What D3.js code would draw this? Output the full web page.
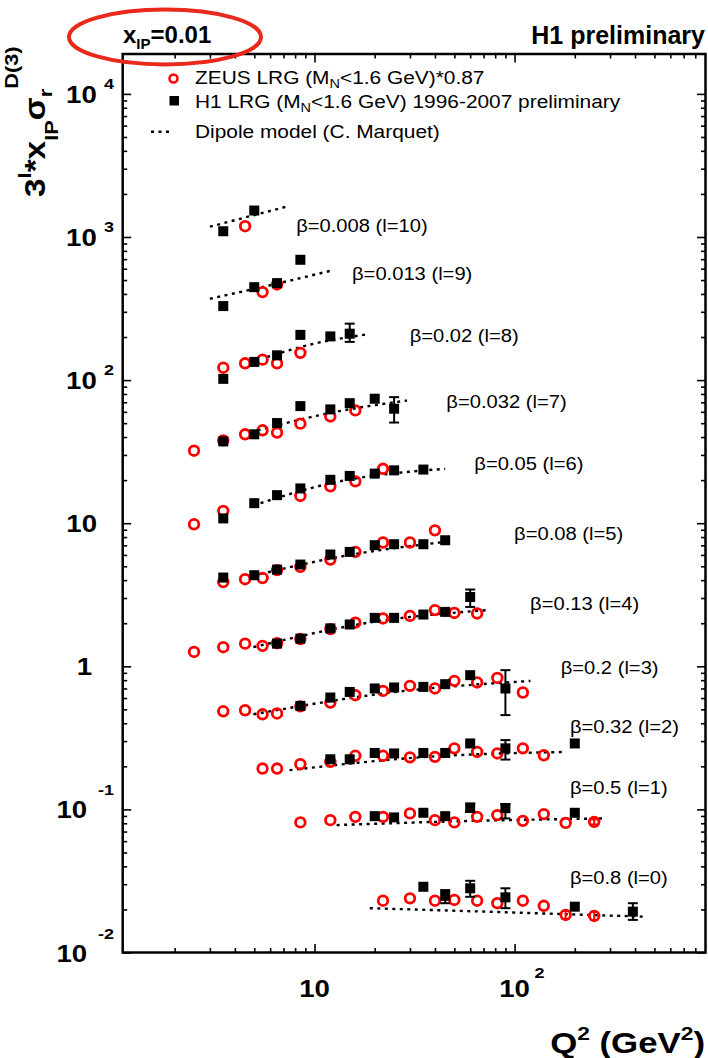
<!DOCTYPE html>
<html>
<head>
<meta charset="utf-8">
<script src="https://cdn.jsdelivr.net/npm/d3@7"></script>
<style>
  html, body { margin: 0; padding: 0; background: #fff; }
  svg { display: block; }
  text { font-family: "Liberation Sans", Arial, Helvetica, sans-serif; fill: #000; }
</style>
</head>
<body>
<svg id="chart" width="708" height="1058"></svg>
<script>
// ---- data -------------------------------------------------------------
// beta bins, drawn with an offset of 3^l
const betaIndex = [10, 9, 8, 7, 6, 5, 4, 3, 2, 1, 0];
const betaLabels = ["0.008", "0.013", "0.02", "0.032", "0.05", "0.08", "0.13", "0.2", "0.32", "0.5", "0.8"];
// label anchors in data coordinates: [Q2 of left edge, value at text centre]
const betaLabelQ2 = [8.1, 15.4, 29.9, 45.6, 62.9, 99.4, 119.5, 170, 189, 189, 189];
const betaLabelVal = [1202, 556, 205, 71.0, 26.2, 8.49, 2.76, 0.985, 0.382, 0.143, 0.0336];

// ZEUS LRG (M_N < 1.6 GeV) * 0.87 : [l, Q2, 3^l * x_IP sigma_r, errLo, errHi]
const zeusPoints = [
  [10, 4.5, 1189],
  [9, 5.5, 412], [9, 6.5, 466],
  [8, 3.5, 122], [8, 4.5, 131], [8, 5.5, 139], [8, 6.5, 131], [8, 8.5, 155],
  [7, 2.5, 32.1], [7, 3.5, 37.9], [7, 4.5, 41.8], [7, 5.5, 44.6], [7, 6.5, 43.0], [7, 8.5, 49.6], [7, 12, 55.7], [7, 16, 61.4],
  [6, 2.5, 9.83], [6, 3.5, 12.2], [6, 8.5, 15.5], [6, 12, 18.1], [6, 16, 19.6], [6, 22, 24.0],
  [5, 3.5, 3.88], [5, 4.5, 4.06], [5, 5.5, 4.14], [5, 6.5, 4.70], [5, 8.5, 4.95], [5, 12, 5.57], [5, 16, 6.30], [5, 22, 7.33], [5, 30, 7.33], [5, 40, 8.91],
  [4, 2.5, 1.26], [4, 3.5, 1.36], [4, 4.5, 1.44], [4, 5.5, 1.39], [4, 6.5, 1.45], [4, 8.5, 1.55], [4, 12, 1.82], [4, 16, 2.02], [4, 22, 2.16], [4, 30, 2.25], [4, 40, 2.47], [4, 50, 2.36], [4, 65, 2.34],
  [3, 3.5, 0.485], [3, 4.5, 0.493], [3, 5.5, 0.462], [3, 6.5, 0.468], [3, 8.5, 0.525], [3, 12, 0.558], [3, 16, 0.628], [3, 22, 0.673], [3, 30, 0.730], [3, 40, 0.700], [3, 50, 0.791], [3, 65, 0.771], [3, 82, 0.830], [3, 110, 0.656],
  [2, 5.5, 0.193], [2, 6.5, 0.193], [2, 8.5, 0.207], [2, 12, 0.215], [2, 16, 0.237], [2, 22, 0.237], [2, 30, 0.231], [2, 40, 0.233], [2, 50, 0.267], [2, 65, 0.252], [2, 82, 0.246], [2, 110, 0.267], [2, 140, 0.239],
  [1, 8.5, 0.0811], [1, 12, 0.0841], [1, 16, 0.0887], [1, 22, 0.0887], [1, 30, 0.0938], [1, 40, 0.0841], [1, 50, 0.0811], [1, 65, 0.0887], [1, 82, 0.0912], [1, 110, 0.0832], [1, 140, 0.0927], [1, 180, 0.0805], [1, 250, 0.0818, 0.0785, 0.0852],
  [0, 22, 0.0230], [0, 30, 0.0239], [0, 40, 0.0230], [0, 50, 0.0233], [0, 65, 0.0230], [0, 82, 0.0221], [0, 110, 0.0230], [0, 140, 0.0212], [0, 180, 0.0183, 0.0172, 0.0195], [0, 250, 0.0180, 0.0169, 0.0192]
];

// H1 LRG (M_N < 1.6 GeV) 1996-2007 preliminary : [l, Q2, value, errLo, errHi]
const h1Points = [
  [10, 3.5, 1097], [10, 5, 1531],
  [9, 3.5, 329], [9, 5, 446], [9, 6.5, 476], [9, 8.5, 693],
  [8, 3.5, 102], [8, 5, 134], [8, 6.5, 149], [8, 8.5, 207], [8, 12, 202], [8, 15, 211, 185, 248],
  [7, 3.5, 37.3], [7, 5, 41.8], [7, 6.5, 50.1], [7, 8.5, 65.8], [7, 12, 62.4], [7, 15, 69.0], [7, 20, 74.1], [7, 25, 63.1, 50.5, 76.0],
  [6, 3.5, 10.8], [6, 5, 13.8], [6, 6.5, 15.7], [6, 8.5, 17.5], [6, 12, 20.1], [6, 15, 21.4], [6, 20, 22.2], [6, 25, 23.4], [6, 35, 23.7],
  [5, 3.5, 4.17], [5, 5, 4.33], [5, 6.5, 4.74], [5, 8.5, 5.14], [5, 12, 6.04], [5, 15, 6.30], [5, 20, 7.02], [5, 25, 7.13], [5, 35, 7.13], [5, 45, 7.60],
  [4, 6.5, 1.44], [4, 8.5, 1.56], [4, 12, 1.84], [4, 15, 1.96], [4, 20, 2.18], [4, 25, 2.18], [4, 35, 2.30], [4, 45, 2.40], [4, 60, 3.05, 2.60, 3.44],
  [3, 8.5, 0.529], [3, 12, 0.605], [3, 15, 0.662], [3, 20, 0.700], [3, 25, 0.711], [3, 35, 0.718], [3, 45, 0.750], [3, 60, 0.867], [3, 90, 0.700, 0.456, 0.940],
  [2, 12, 0.224], [2, 15, 0.224], [2, 20, 0.248], [2, 25, 0.246], [2, 35, 0.248], [2, 45, 0.248], [2, 60, 0.289], [2, 90, 0.267, 0.223, 0.305], [2, 200, 0.289],
  [1, 20, 0.0897], [1, 25, 0.0879], [1, 35, 0.0947], [1, 45, 0.0897], [1, 60, 0.1026, 0.0960, 0.1100], [1, 90, 0.102, 0.0865, 0.109], [1, 200, 0.0947],
  [0, 35, 0.0288], [0, 45, 0.0249, 0.0221, 0.0273], [0, 60, 0.0281, 0.0245, 0.0317], [0, 90, 0.0243, 0.0204, 0.0281], [0, 200, 0.0209], [0, 390, 0.0193, 0.0169, 0.0221]
];

// dipole model (C. Marquet) curves: [l, [[Q2, value], ...]]
const dipoleCurves = [
  [10, [[3.0, 1180], [7.5, 1650]]],
  [9, [[3.0, 370], [6.0, 460], [12, 580]]],
  [8, [[5.8, 145], [10, 180], [18, 208]]],
  [7, [[5.2, 44.5], [12, 59], [29, 72]]],
  [6, [[4.95, 13.3], [12, 19.0], [45, 24.0]]],
  [5, [[4.95, 4.3], [15, 6.0], [45, 7.4]]],
  [4, [[4.95, 1.36], [20, 2.05], [73, 2.47]]],
  [3, [[4.95, 0.462], [25, 0.66], [120, 0.79]]],
  [2, [[7.5, 0.188], [35, 0.232], [180, 0.252]]],
  [1, [[12.9, 0.0777], [50, 0.0825], [280, 0.0865]]],
  [0, [[18.9, 0.0204], [80, 0.0192], [440, 0.0178]]]
];

// axis ticks
const yMajorTicks = [1e-2, 1e-1, 1, 10, 1e2, 1e3, 1e4];
const yTickBase = ["10", "10", "1", "10", "10", "10", "10"];
const yTickExp = ["-2", "-1", "", "", "2", "3", "4"];
const xMajorTicks = [10, 100];
const xTickBase = ["10", "10"];
const xTickExp = ["", "2"];

// ---- scales -----------------------------------------------------------
const svg = d3.select("#chart");
const frameLeft = 122.7, frameRight = 705.5, frameTop = 54, frameBottom = 952.5;
const x = d3.scaleLog().domain([1.1, 900]).range([frameLeft, frameRight]);
const y = d3.scaleLog().domain([0.01, 1.9e4]).range([frameBottom, frameTop]);

const yMinorTicks = [];
for (let d = -2; d <= 3; d++) for (let k = 2; k <= 9; k++) yMinorTicks.push(k * Math.pow(10, d));
const xMinorTicks = [];
for (let d = 0; d <= 2; d++) for (let k = 2; k <= 9; k++) {
  const v = k * Math.pow(10, d);
  if (v > 1.1 && v < 900) xMinorTicks.push(v);
}

// ---- axes (ticks point into the frame) -------------------------------
function tickAxis(axisFn, scale, values, size, transform) {
  const g = svg.append("g").attr("transform", transform)
    .call(axisFn(scale).tickValues(values).tickSizeInner(-size).tickSizeOuter(0).tickFormat(""));
  g.select(".domain").remove();
  g.selectAll(".tick line").attr("stroke", "#000").attr("stroke-width", 1.6);
  return g;
}
tickAxis(d3.axisLeft, y, yMinorTicks, 4.5, `translate(${frameLeft},0)`);
tickAxis(d3.axisLeft, y, yMajorTicks, 8.5, `translate(${frameLeft},0)`);
tickAxis(d3.axisRight, y, yMinorTicks, 4.5, `translate(${frameRight},0)`);
tickAxis(d3.axisRight, y, yMajorTicks, 8.5, `translate(${frameRight},0)`);
tickAxis(d3.axisBottom, x, xMinorTicks, 4.5, `translate(0,${frameBottom})`);
tickAxis(d3.axisBottom, x, xMajorTicks, 8.5, `translate(0,${frameBottom})`);
tickAxis(d3.axisTop, x, xMinorTicks, 4.5, `translate(0,${frameTop})`);
tickAxis(d3.axisTop, x, xMajorTicks, 8.5, `translate(0,${frameTop})`);

svg.append("rect")
  .attr("x", frameLeft).attr("y", frameTop)
  .attr("width", frameRight - frameLeft).attr("height", frameBottom - frameTop)
  .attr("fill", "none").attr("stroke", "#000").attr("stroke-width", 2.5);

// text placed in a group that can be stretched along x
function stretched(parent, tx, ty, sx, sy) {
  return parent.append("g")
    .attr("transform", `translate(${tx},${ty}) scale(${sx},${sy})`)
    .append("text").attr("x", 0).attr("y", 0);
}

// y tick labels
yMajorTicks.forEach((v, i) => {
  const exp = yTickExp[i];
  const neg = exp.startsWith("-");
  const xr = exp ? 114 : (yTickBase[i] === "1" ? 92 : 97);
  const t = stretched(svg, xr, y(v) + 9, 1.2, 1)
    .attr("text-anchor", "end").attr("font-weight", "bold").attr("font-size", 23);
  t.append("tspan").text(yTickBase[i]);
  if (exp) {
    t.append("tspan").attr("dx", neg ? 9 : 6).attr("dy", neg ? -23 : -14)
      .attr("font-size", 15).text(exp);
  }
});

// x tick labels
xMajorTicks.forEach((v, i) => {
  stretched(svg, x(v), 997, 1.2, 1)
    .attr("text-anchor", "middle").attr("font-weight", "bold").attr("font-size", 23)
    .text(xTickBase[i]);
  if (xTickExp[i]) {
    stretched(svg, x(v) + 20, 978, 1.2, 1)
      .attr("font-weight", "bold").attr("font-size", 15).text(xTickExp[i]);
  }
});

// x axis title: Q^2 (GeV^2)
{
  const t = stretched(svg, 705, 1053, 1.2, 1)
    .attr("text-anchor", "end").attr("font-weight", "bold").attr("font-size", 29);
  t.append("tspan").text("Q");
  t.append("tspan").attr("dy", -13).attr("font-size", 19).text("2");
  t.append("tspan").attr("dy", 13).text(" (GeV");
  t.append("tspan").attr("dy", -13).attr("font-size", 19).text("2");
  t.append("tspan").attr("dy", 13).text(")");
}

// y axis title: 3^l * x_IP sigma_r^D(3)
{
  const g = svg.append("g").attr("transform", "translate(45,197) rotate(-90) scale(1.15,1)");
  const t = g.append("text").attr("font-weight", "bold").attr("font-size", 29);
  t.append("tspan").text("3");
  t.append("tspan").attr("dy", -14).attr("font-size", 19).text("l");
  t.append("tspan").attr("dy", 14).text("*x");
  t.append("tspan").attr("dy", 13).attr("font-size", 19).text("IP");
  t.append("tspan").attr("dy", -13).text("σ");
  t.append("tspan").attr("dy", 7).attr("font-size", 19).text("r");
  t.append("tspan").attr("dy", -34).attr("font-size", 19).text("D(3)");
}

// header texts
{
  const t = svg.append("text").attr("x", 123).attr("y", 43)
    .attr("font-weight", "bold").attr("font-size", 24);
  t.append("tspan").text("x");
  t.append("tspan").attr("dy", 6).attr("font-size", 15).text("IP");
  t.append("tspan").attr("dy", -6).text("=0.01");
  svg.append("text").attr("x", 705).attr("y", 44).attr("text-anchor", "end")
    .attr("font-weight", "bold").attr("font-size", 25).text("H1 preliminary");
}

// ---- dipole model curves ---------------------------------------------
const line = d3.line().x(d => x(d[0])).y(d => y(d[1])).curve(d3.curveMonotoneX);
svg.append("g").selectAll("path").data(dipoleCurves).join("path")
  .attr("d", d => line(d[1]))
  .attr("fill", "none").attr("stroke", "#000")
  .attr("stroke-width", 2.4).attr("stroke-dasharray", "3,4.5");

// ---- ZEUS points ------------------------------------------------------
const zeusG = svg.append("g");
zeusG.selectAll("g.err").data(zeusPoints.filter(d => d.length > 3)).join("g").attr("class", "err")
  .each(function (d) {
    const g = d3.select(this), cx = x(d[1]);
    g.append("line").attr("x1", cx).attr("x2", cx).attr("y1", y(d[3])).attr("y2", y(d[4]))
      .attr("stroke", "#ff0000").attr("stroke-width", 2);
    [d[3], d[4]].forEach(v => g.append("line").attr("x1", cx - 4).attr("x2", cx + 4)
      .attr("y1", y(v)).attr("y2", y(v)).attr("stroke", "#ff0000").attr("stroke-width", 2));
  });
zeusG.selectAll("circle").data(zeusPoints).join("circle")
  .attr("cx", d => x(d[1])).attr("cy", d => y(d[2])).attr("r", 4.8)
  .attr("fill", "none").attr("stroke", "#ff0000").attr("stroke-width", 2.8);

// ---- H1 points --------------------------------------------------------
const h1G = svg.append("g");
h1G.selectAll("g.err").data(h1Points.filter(d => d.length > 3)).join("g").attr("class", "err")
  .each(function (d) {
    const g = d3.select(this), cx = x(d[1]);
    g.append("line").attr("x1", cx).attr("x2", cx).attr("y1", y(d[3])).attr("y2", y(d[4]))
      .attr("stroke", "#000").attr("stroke-width", 2);
    [d[3], d[4]].forEach(v => g.append("line").attr("x1", cx - 5).attr("x2", cx + 5)
      .attr("y1", y(v)).attr("y2", y(v)).attr("stroke", "#000").attr("stroke-width", 2));
  });
const sq = 10;
h1G.selectAll("rect").data(h1Points).join("rect")
  .attr("x", d => x(d[1]) - sq / 2).attr("y", d => y(d[2]) - sq / 2)
  .attr("width", sq).attr("height", sq).attr("fill", "#000");

// ---- beta labels ------------------------------------------------------
betaLabels.forEach((b, i) => {
  stretched(svg, x(betaLabelQ2[i]), y(betaLabelVal[i]) + 6.5, 1.09, 1)
    .attr("font-size", 18.5)
    .text(`β=${b} (l=${betaIndex[i]})`);
});

// ---- legend -----------------------------------------------------------
{
  const lg = svg.append("g");
  lg.append("circle").attr("cx", 173.5).attr("cy", 78.5).attr("r", 4)
    .attr("fill", "none").attr("stroke", "#ff0000").attr("stroke-width", 2.5);
  lg.append("rect").attr("x", 169.5).attr("y", 96).attr("width", 9.5).attr("height", 9.5).attr("fill", "#000");
  lg.append("line").attr("x1", 151).attr("x2", 169).attr("y1", 131.7).attr("y2", 131.7)
    .attr("stroke", "#000").attr("stroke-width", 2.4).attr("stroke-dasharray", "3,4.5");

  const rows = [
    { y: 84, parts: [["ZEUS LRG (M", 0], ["N", 1], ["<1.6 GeV)*0.87", 0]] },
    { y: 107.5, parts: [["H1 LRG (M", 0], ["N", 1], ["<1.6 GeV) 1996-2007 preliminary", 0]] },
    { y: 138, parts: [["Dipole model (C. Marquet)", 0]] }
  ];
  rows.forEach(r => {
    const t = stretched(lg, 195, r.y, 1.16, 1).attr("font-size", 18);
    let cur = 0;
    r.parts.forEach(([s, sub]) => {
      const dy = sub ? 4 : 0;
      t.append("tspan").attr("dy", dy - cur).attr("font-size", sub ? 12.5 : 18).text(s);
      cur = dy;
    });
  });
}

// ---- highlight ring round the x_IP header -----------------------------
svg.append("ellipse")
  .attr("cx", 165).attr("cy", 37).attr("rx", 96).attr("ry", 27.5)
  .attr("fill", "none").attr("stroke", "#e8291c").attr("stroke-width", 4);
</script>
</body>
</html>
